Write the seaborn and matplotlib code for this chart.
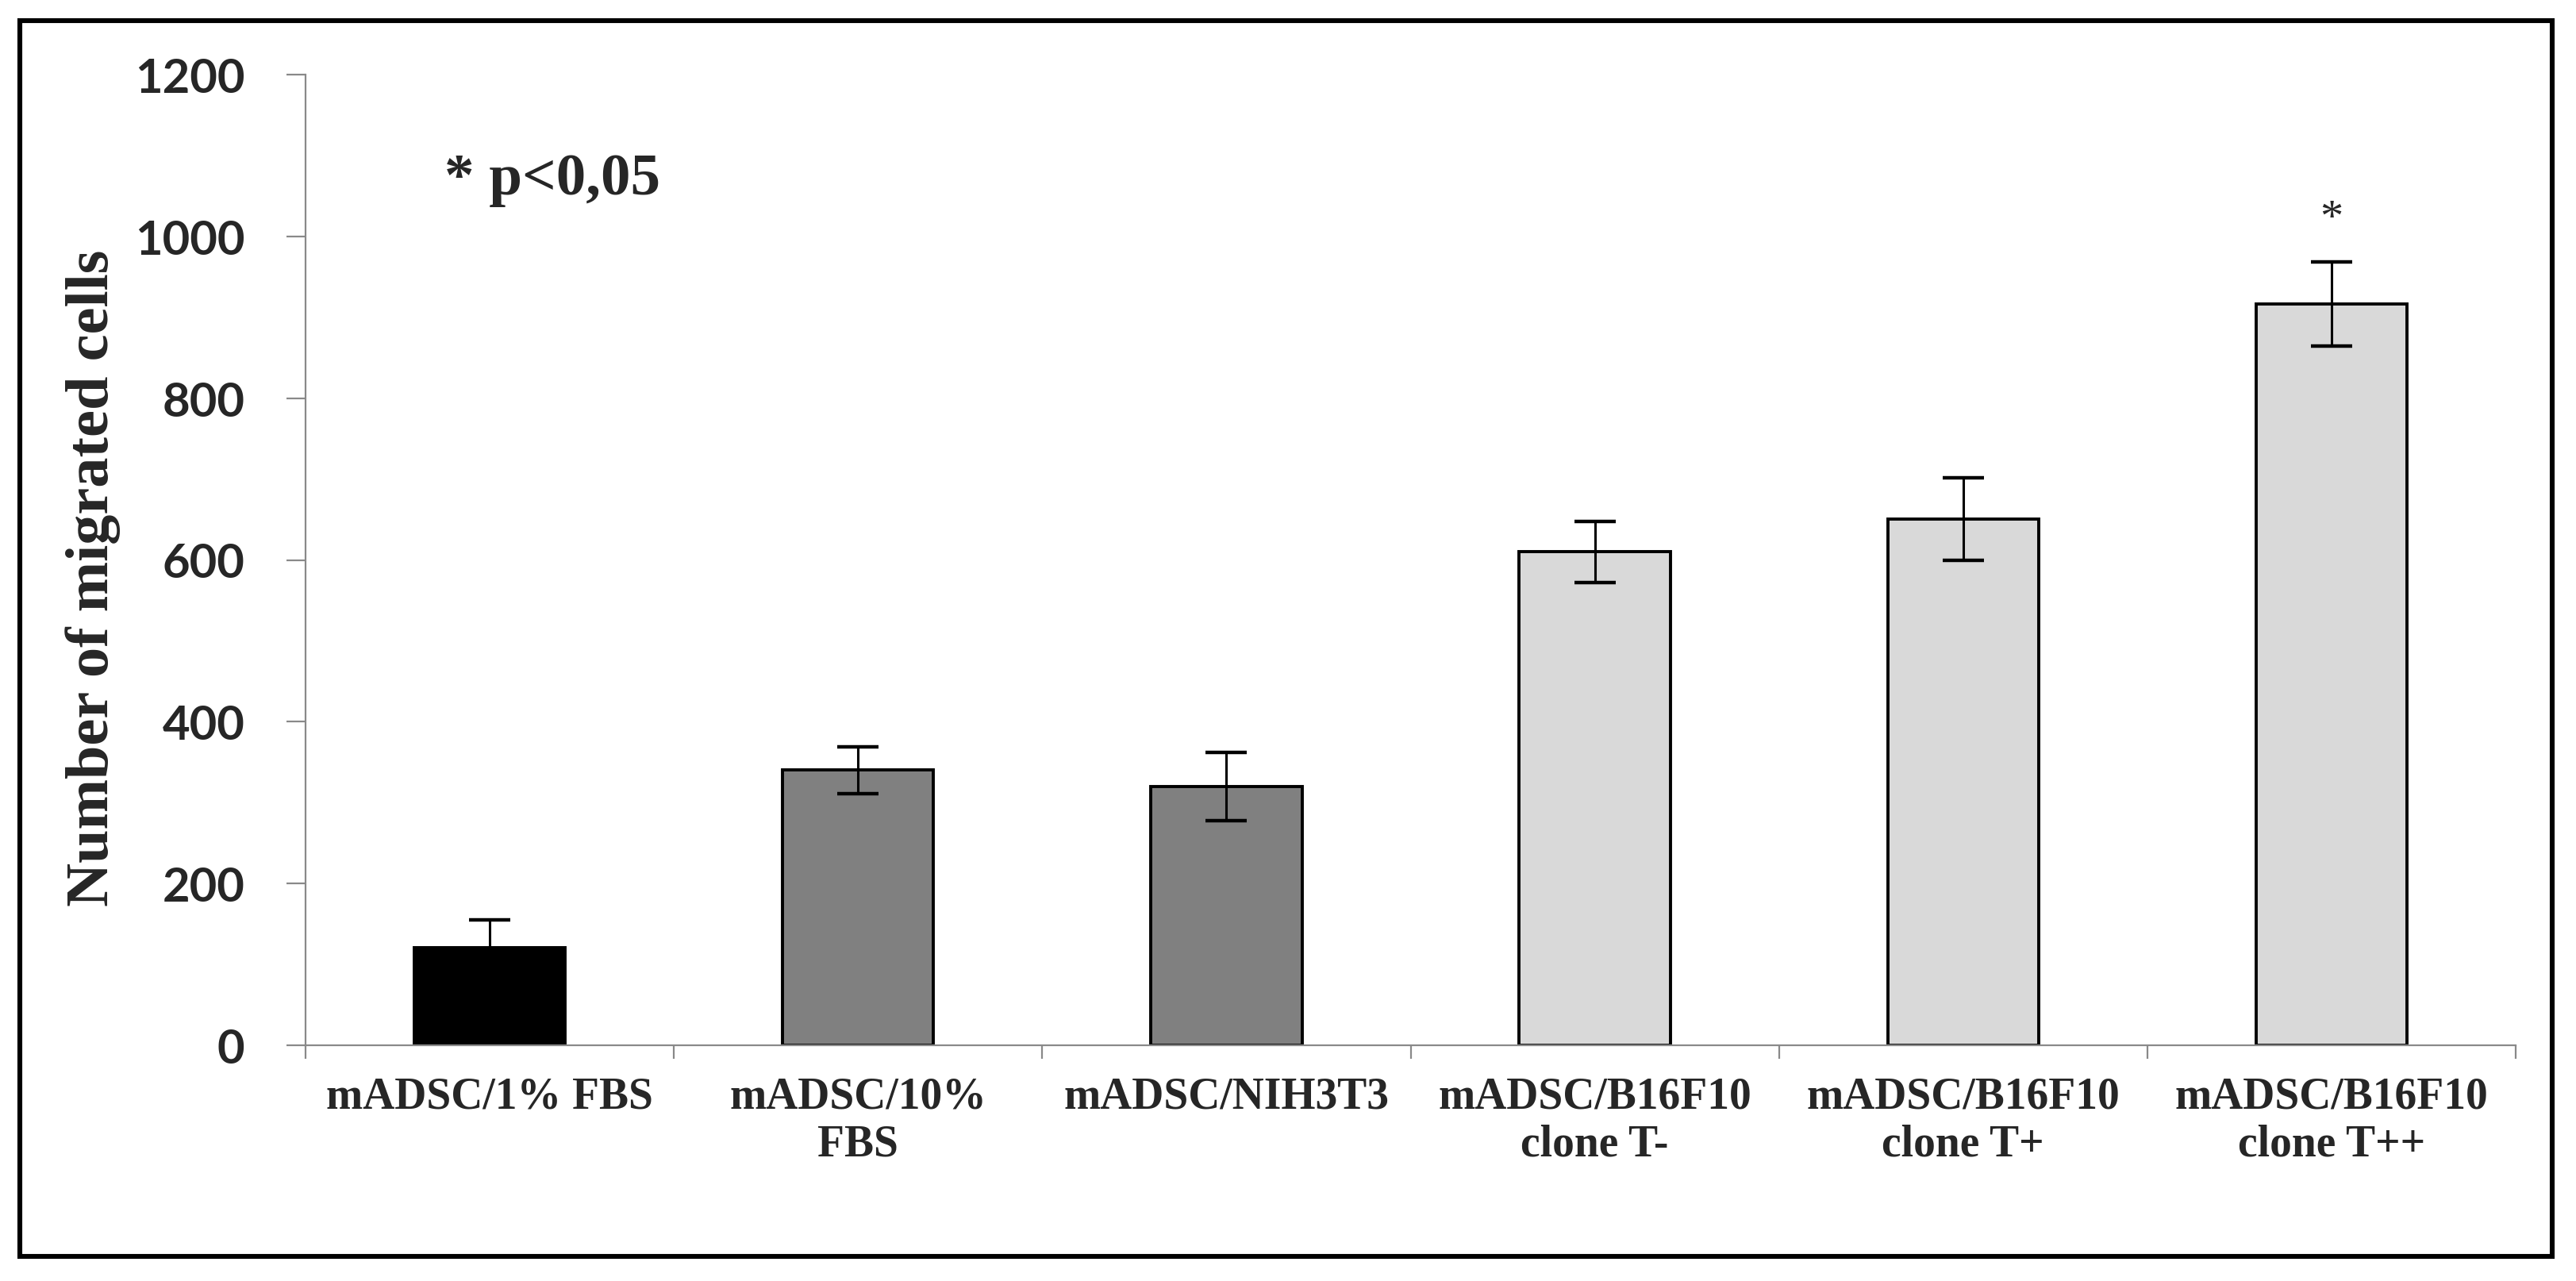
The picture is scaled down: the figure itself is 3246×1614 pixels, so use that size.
import matplotlib
matplotlib.use("Agg")
import matplotlib.pyplot as plt
import seaborn as sns
import pandas as pd
from matplotlib.patches import Rectangle

# ---- data ----
categories = ["mADSC/1% FBS", "mADSC/10%\nFBS", "mADSC/NIH3T3",
              "mADSC/B16F10\nclone T-", "mADSC/B16F10\nclone T+", "mADSC/B16F10\nclone T++"]
means = [121, 340, 320, 610, 651, 916]
errors = [34, 29, 42, 38, 51, 52]
bar_colors = ["#000000", "#808080", "#808080", "#D9D9D9", "#D9D9D9", "#D9D9D9"]
significant = [False, False, False, False, False, True]
y_ticks = [0, 200, 400, 600, 800, 1000, 1200]

sns.set_style("white")
plt.rcParams["font.family"] = ["Liberation Serif", "DejaVu Serif"]

W, H, DPI = 3246, 1615, 200
fig = plt.figure(figsize=(W / DPI, H / DPI), dpi=DPI)
ax = fig.add_axes([385 / W, 1 - 1318 / H, (3170 - 385) / W, (1318 - 95) / H])

df = pd.DataFrame({"cat": categories, "val": means})
sns.barplot(data=df, x="cat", y="val", hue="cat", palette=bar_colors,
            legend=False, width=0.41, edgecolor="black", linewidth=1.4,
            errorbar=None, ax=ax, order=categories, hue_order=categories)

ax.errorbar(range(len(categories)), means, yerr=errors, fmt="none",
            ecolor="black", elinewidth=1.1, capsize=9.5, capthick=1.6, zorder=5)

for i, (m, e, s) in enumerate(zip(means, errors, significant)):
    if s:
        ax.text(i, m + e + 40, "*", ha="center", va="baseline",
                fontsize=21, fontweight="normal", family=["Liberation Serif"])

ax.set_xlim(-0.5, len(categories) - 0.5)
ax.set_ylim(0, 1200)
ax.set_yticks(y_ticks)
ax.set_yticklabels([str(t) for t in y_ticks], family=["Lato", "DejaVu Sans"],
                   fontweight="bold", fontsize=21.5)

gray = "#898989"
for side in ["top", "right"]:
    ax.spines[side].set_visible(False)
for side in ["left", "bottom"]:
    ax.spines[side].set_color(gray)
    ax.spines[side].set_linewidth(0.8)

ax.tick_params(axis="y", which="major", direction="out", length=8.6, width=0.8,
               color=gray, pad=19, left=True)
ax.set_xticks(range(len(categories)))
ax.set_xticklabels(categories, fontsize=20, fontweight="bold",
                   family=["Liberation Serif"], linespacing=1.2)
ax.tick_params(axis="x", which="major", length=0, pad=14)
ax.set_xticks([i - 0.5 for i in range(len(categories) + 1)], minor=True)
ax.tick_params(axis="x", which="minor", direction="out", length=6.2, width=0.8,
               color=gray, bottom=True)

ax.set_xlabel("")
ax.set_ylabel("Number of migrated cells", fontsize=27.5, fontweight="bold",
              family=["Liberation Serif"])
ax.yaxis.set_label_coords(-0.0835, 0.482)

fig.text(560 / W, 1 - 245 / H, "* p<0,05", fontsize=27, fontweight="bold",
         family=["Liberation Serif"], ha="left", va="baseline")

fig.patches.append(Rectangle((25 / W, 1 - 1584 / H), (3216 - 25) / W, (1584 - 27) / H,
                             transform=fig.transFigure, fill=False,
                             edgecolor="black", linewidth=2.2, zorder=10))

fig.savefig("out.png", dpi=DPI, facecolor="white")
